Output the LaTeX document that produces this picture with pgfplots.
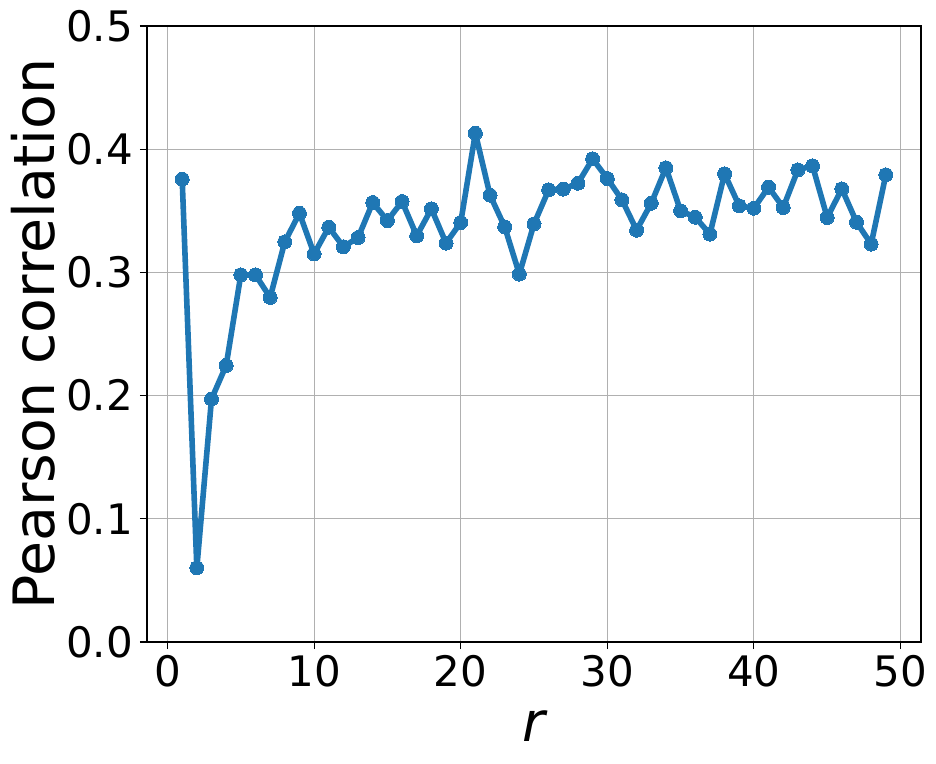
\documentclass[border=0pt]{standalone}
\usepackage{fontspec}
\setmainfont{DejaVu Sans}
\usepackage{pgfplots}
\pgfplotsset{compat=1.18}
\definecolor{mplblue}{HTML}{1F77B4}
\definecolor{mplgrid}{HTML}{B0B0B0}

\begin{document}
\begin{tikzpicture}
\begin{axis}[
    scale only axis,
    width=774pt, height=616pt,
    xmin=-1.4, xmax=51.4,
    ymin=0, ymax=0.5,
    xtick={0,10,...,50},
    ytick={0,0.1,...,0.5},
    grid=major,
    major grid style={mplgrid, line width=1.1pt},
    axis line style={black, line width=1.1pt},
    tick style={black, line width=1.1pt},
    tick align=outside,
    major tick length=7pt,
    xtick pos=bottom, ytick pos=left,
    /pgf/number format/assume math mode=true,
    y tick label style={/pgf/number format/fixed, /pgf/number format/fixed zerofill, /pgf/number format/precision=1},
    ticklabel style={font=\fontsize{42}{48}\selectfont, inner sep=0pt},
    xticklabel style={anchor=north, yshift=-6pt},
    yticklabel style={anchor=east, xshift=-7pt},
    ylabel={Pearson correlation},
    xlabel={\itshape r},
    label style={inner sep=0pt},
    ylabel style={font=\fontsize{57}{64}\selectfont, at={(axis description cs:-0.147,0.5)}, anchor=center, rotate=0},
    xlabel style={font=\fontsize{55}{62}\selectfont, at={(axis description cs:0.5,-0.136)}, anchor=center},
  ]
  \addplot[mplblue, line width=5.6pt, line join=round, mark=*, mark size=7pt,
           mark options={fill=mplblue, draw=mplblue, line width=0pt}]
  coordinates {
    (1,0.3757) (2,0.0602) (3,0.1972) (4,0.2245) (5,0.2980)
    (6,0.2980) (7,0.2797) (8,0.3248) (9,0.3480) (10,0.3150)
    (11,0.3367) (12,0.3208) (13,0.3283) (14,0.3567) (15,0.3421)
    (16,0.3575) (17,0.3297) (18,0.3516) (19,0.3238) (20,0.3405)
    (21,0.4130) (22,0.3627) (23,0.3370) (24,0.2986) (25,0.3394)
    (26,0.3670) (27,0.3676) (28,0.3724) (29,0.3922) (30,0.3762)
    (31,0.3589) (32,0.3343) (33,0.3562) (34,0.3849) (35,0.3500)
    (36,0.3448) (37,0.3311) (38,0.3800) (39,0.3540) (40,0.3521)
    (41,0.3692) (42,0.3527) (43,0.3832) (44,0.3865) (45,0.3446)
    (46,0.3678) (47,0.3408) (48,0.3230) (49,0.3792)
  };
\end{axis}
\pgfresetboundingbox
\useasboundingbox (-147pt,-121pt) rectangle (789pt,642pt);
\end{tikzpicture}
\end{document}
